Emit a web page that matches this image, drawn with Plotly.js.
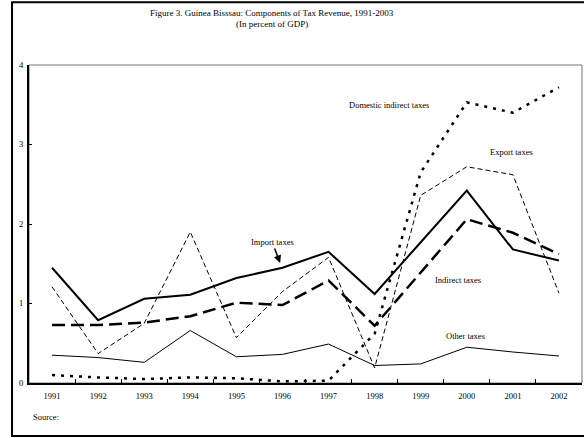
<!DOCTYPE html>
<html>
<head>
<meta charset="utf-8">
<script src="https://cdn.plot.ly/plotly-3.0.1.min.js"></script>
<style>
  html, body { margin: 0; padding: 0; background: #fff; }
  #chart { width: 584px; height: 438px; }
</style>
</head>
<body>
<div id="chart"></div>
<script>
// ---- Data ----
const years = ["1991","1992","1993","1994","1995","1996","1997","1998","1999","2000","2001","2002"];
const importTaxes   = [1.45, 0.79, 1.06, 1.11, 1.32, 1.45, 1.65, 1.12, 1.77, 2.42, 1.68, 1.54];
const indirectTaxes = [0.73, 0.73, 0.76, 0.84, 1.01, 0.98, 1.29, 0.72, 1.39, 2.06, 1.89, 1.62];
const exportTaxes   = [1.21, 0.37, 0.75, 1.90, 0.57, 1.15, 1.58, 0.19, 2.36, 2.72, 2.62, 1.13];
const domesticIndirectTaxes = [0.10, 0.07, 0.05, 0.07, 0.06, 0.02, 0.03, 0.62, 2.65, 3.53, 3.40, 3.72];
const otherTaxes    = [0.35, 0.32, 0.26, 0.66, 0.33, 0.36, 0.49, 0.22, 0.24, 0.45, 0.39, 0.34];
const yTicks = [0, 1, 2, 3, 4];

const font = "Liberation Serif, Times New Roman, serif";

const traces = [
  {name: "Other taxes", y: otherTaxes, line: {color: "#000", width: 1, dash: "solid"}},
  {name: "Export taxes", y: exportTaxes, line: {color: "#000", width: 1, dash: "5px,3px"}},
  {name: "Domestic indirect taxes", y: domesticIndirectTaxes, line: {color: "#000", width: 2.5, dash: "3px,6px"}},
  {name: "Indirect taxes", y: indirectTaxes, line: {color: "#000", width: 2.5, dash: "13px,6px"}},
  {name: "Import taxes", y: importTaxes, line: {color: "#000", width: 2, dash: "solid"}}
].map(t => Object.assign({x: years, type: "scatter", mode: "lines", hoverinfo: "skip"}, t));

const lblFont = {family: font, size: 8.5, color: "#000"};
const titleFont = {family: font, size: 9, color: "#000"};

const layout = {
  width: 584, height: 438,
  margin: {l: 29, r: 2, t: 65, b: 55, pad: 0},
  paper_bgcolor: "#fff", plot_bgcolor: "#fff",
  showlegend: false,
  title: {text: ""},
  xaxis: {
    type: "category", range: [-0.5, 11.5],
    showline: true, linecolor: "#000", linewidth: 2,
    ticks: "inside", ticklen: 4, tickcolor: "#000", tickwidth: 1,
    tickson: "boundaries",
    showgrid: false, zeroline: false,
    tickfont: {family: font, size: 8.5, color: "#000"},
    ticklabelstandoff: 4, fixedrange: true
  },
  yaxis: {
    range: [0, 4], tickvals: yTicks, ticktext: yTicks.map(String),
    showline: true, linecolor: "#000", linewidth: 2,
    ticks: "inside", ticklen: 3, tickcolor: "#000", tickwidth: 1,
    showgrid: false, zeroline: false,
    tickfont: {family: font, size: 8.5, color: "#000"},
    ticklabelstandoff: 2, fixedrange: true
  },
  shapes: [
    {type: "rect", xref: "paper", yref: "paper", x0: 0, x1: 1, y0: 0, y1: 1,
     line: {color: "#777", width: 1}, layer: "below"},
    {type: "rect", xref: "paper", yref: "paper", x0: -0.0307, x1: 1.006, y0: -0.1667, y1: 1.197,
     line: {color: "#000", width: 2}, layer: "above"}
  ],
  annotations: [
    {x: 0.4394, y: 1.187, xref: "paper", yref: "paper", text: "Figure 3. Guinea Bisssau: Components of Tax Revenue, 1991-2003", showarrow: false, font: titleFont},
    {x: 0.4394, y: 1.150, xref: "paper", yref: "paper", text: "(In percent of GDP)", showarrow: false, font: titleFont},
    {x: 7.31, y: 3.50, xref: "x", yref: "y", text: "Domestic indirect taxes", showarrow: false, font: lblFont},
    {x: 9.96, y: 2.91, xref: "x", yref: "y", text: "Export taxes", showarrow: false, font: lblFont},
    {x: 8.81, y: 1.30, xref: "x", yref: "y", text: "Indirect taxes", showarrow: false, font: lblFont},
    {x: 8.98, y: 0.59, xref: "x", yref: "y", text: "Other taxes", showarrow: false, font: lblFont},
    {x: 4.95, y: 1.51, xref: "x", yref: "y", text: "Import taxes", showarrow: true,
     ax: -8, ay: -21, arrowhead: 2, arrowsize: 1, arrowwidth: 1.5, arrowcolor: "#000", font: lblFont},
    {x: 0.0036, y: -0.13, xref: "paper", yref: "paper", xanchor: "left", text: "Source:", showarrow: false, font: lblFont}
  ]
};

Plotly.newPlot("chart", traces, layout, {displayModeBar: false, staticPlot: true});
</script>
</body>
</html>
